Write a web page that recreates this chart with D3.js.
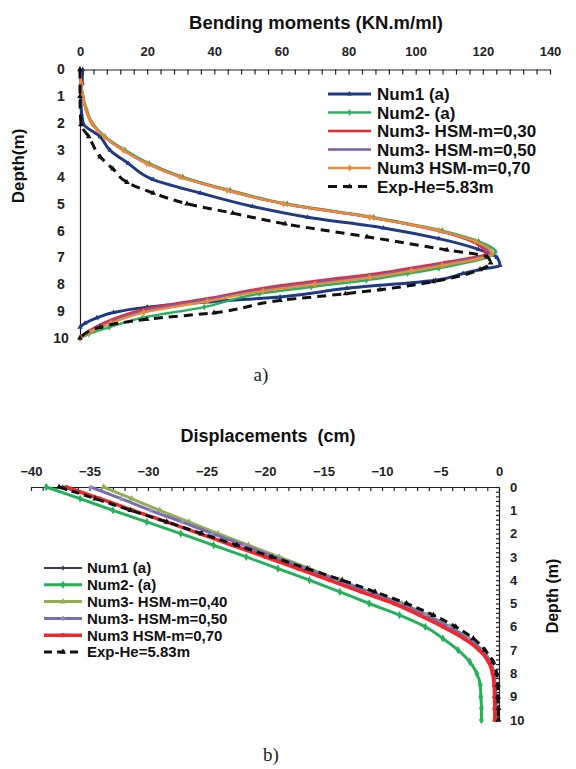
<!DOCTYPE html>
<html><head><meta charset="utf-8">
<script src="https://cdn.jsdelivr.net/npm/d3@7/dist/d3.min.js"></script>
<style>
body{margin:0;background:#fff}
</style>
</head><body>
<svg id="c" width="576" height="769"></svg>
<script>
// ---------- (a) Bending moments ----------
const momTicks = [0,20,40,60,80,100,120,140];
const depthTicks = [0,1,2,3,4,5,6,7,8,9,10];

const momDepthNum1 = [0,0.5,1,2,2.5,3,3.5,4.1,4.6,5.1,5.5,5.9,6.3,6.7,7.0,7.3,7.45,7.6,7.85,8.15,8.47,8.65,8.85,9.05,9.25,9.45,9.6];
const momNum1      = [0.8,0.6,0.2,0.9,6,8.9,14.4,21.8,35.8,51.4,67.8,90.4,106.9,118.7,124.2,125.1,119.1,114.1,105.9,79.5,59.6,39,20,10,5,1.5,0];

const momDepthNum2 = [0,0.5,1,1.5,2,2.5,3,3.5,4,4.5,5,5.5,6,6.4,6.8,7.4,7.6,7.85,8.1,8.35,8.85,9.25,9.6,9.85,10];
const momNum2      = [0,0.3,0.9,2,3.7,7.5,13.4,20.6,30.6,44.7,61.7,87.4,107.9,118.7,123.8,106.9,97.6,85.3,68.9,53.4,37,18.5,8.7,2.6,0];

const momDepthM30 = [0,0.5,1,1.5,2,2.5,3,3.5,4,4.5,5,5.5,6,6.4,6.85,7.15,7.35,7.6,7.85,8.1,8.48,8.9,9.3,9.7,10];
const momM30      = [0,0.3,0.8,1.8,3.5,7.2,12.8,19.9,29.8,43.8,60.6,86.3,106.4,116.6,120.8,110,100.7,88.4,71.9,56.5,40.1,20,9.8,3.1,0];

const momDepthM50 = [0,0.5,1,1.5,2,2.5,3,3.5,4,4.5,5,5.5,6,6.4,6.85,7.22,7.42,7.67,7.92,8.17,8.55,8.97,9.37,9.75,10];
const momM50      = [0,0.3,0.8,1.8,3.5,7.2,12.8,19.9,29.8,43.8,60.6,86.3,106.7,117.2,121.8,108.9,99.7,87.4,70.9,55.5,39,19.5,9.5,2.9,0];

const momDepthM70 = [0,0.5,1,1.5,2,2.5,3,3.5,4,4.5,5,5.5,6,6.4,6.85,7.3,7.5,7.75,8.0,8.25,8.63,9.05,9.45,9.8,10];
const momM70      = [0,0.3,0.8,1.8,3.5,7.2,12.8,19.9,29.8,43.8,60.6,86.3,106.9,117.7,122.8,107.9,98.7,86.3,69.9,54.5,38,19,9.2,2.6,0];

const momDepthExp = [0,1,2.05,2.5,3.25,3.7,4.2,4.6,5.0,5.35,5.75,6.23,6.72,6.98,7.2,7.45,7.9,8.2,8.35,8.6,9.06,9.3,9.6,10];
const momExp      = [0,0,0.3,2.6,6,9.8,14,21.8,31.9,45.5,61.1,85.5,109.3,121.3,122.3,119.2,105.3,89.4,79.1,59.6,39.9,19.9,6,0];

const momNames = ["Num1 (a)","Num2- (a)","Num3- HSM-m=0,30","Num3- HSM-m=0,50","Num3 HSM-m=0,70","Exp-He=5.83m"];

// ---------- (b) Displacements ----------
const dispTicks = [-40,-35,-30,-25,-20,-15,-10,-5,0];
const dispDepth = [0,0.5,1,1.5,2,2.5,3,3.5,4,4.5,5,5.5,6,6.5,7,7.5,8,8.5,9,9.5,10];
const dispNum1 = [-37.3,-34.3,-31.4,-28.4,-25.5,-22.6,-19.7,-16.8,-13.9,-11.2,-8.4,-6.2,-4.2,-2.6,-1.4,-0.7,-0.4,-0.3,-0.25,-0.2,-0.2];
const dispNum2 = [-38.7,-35.8,-33.0,-30.1,-27.2,-24.4,-21.6,-18.9,-16.2,-13.6,-11.1,-8.5,-6.3,-4.8,-3.5,-2.5,-1.9,-1.6,-1.55,-1.5,-1.5];
const dispM40  = [-33.8,-31.4,-29.0,-26.5,-24.0,-21.4,-18.8,-16.2,-13.6,-11.0,-8.3,-6.1,-4.2,-2.6,-1.45,-0.75,-0.45,-0.38,-0.36,-0.35,-0.35];
const dispM50  = [-34.9,-32.3,-29.8,-27.1,-24.5,-21.8,-19.2,-16.5,-13.9,-11.2,-8.5,-6.3,-4.3,-2.7,-1.5,-0.8,-0.5,-0.4,-0.38,-0.36,-0.35];
const dispM70  = [-37.0,-34.1,-31.3,-28.4,-25.6,-22.8,-20.0,-17.2,-14.5,-11.8,-9.0,-6.8,-4.8,-3.0,-1.7,-0.9,-0.55,-0.42,-0.38,-0.36,-0.35];
const dispExp  = [-37.6,-34.5,-31.5,-28.4,-25.4,-22.4,-19.4,-16.4,-13.4,-10.6,-7.9,-5.6,-3.7,-2.2,-1.2,-0.5,-0.2,-0.1,-0.1,-0.05,-0.05];
const dispNames = ["Num1 (a)","Num2- (a)","Num3- HSM-m=0,40","Num3- HSM-m=0,50","Num3 HSM-m=0,70","Exp-He=5.83m"];

const SANS = "'Liberation Sans',Arial,sans-serif";
const SERIF = "'Liberation Serif','Times New Roman',serif";
const svg = d3.select("#c");

function drawSeries(g, series, x, y){
  const line = d3.line().x(d=>x(d.v)).y(d=>y(d.d)).curve(d3.curveMonotoneY);
  series.forEach(s=>{
    const pts = s.depth.map((d,i)=>({d:d, v:s.vals[i]}));
    g.append("path").attr("d", line(pts)).attr("fill","none")
      .attr("stroke", s.color).attr("stroke-width", s.width)
      .attr("stroke-dasharray", s.dash || null).attr("stroke-linejoin","round");
    if (s.marker){
      g.selectAll(null).data(pts).enter().append("path")
        .attr("d", d3.symbol().type(s.marker).size(s.msize||14))
        .attr("transform", d=>`translate(${x(d.v)},${y(d.d)})`)
        .attr("fill", s.mcolor||s.color);
    }
  });
}
function drawLegend(g, series, x0, x1, tx, y0, dy, fs){
  series.forEach((s,i)=>{
    const yy = y0 + i*dy;
    g.append("line").attr("x1",x0).attr("x2",x1).attr("y1",yy).attr("y2",yy)
      .attr("stroke",s.color).attr("stroke-width",s.width).attr("stroke-dasharray",s.dash||null);
    if (s.marker) g.append("path").attr("d", d3.symbol().type(s.marker).size(s.msize||14))
      .attr("transform",`translate(${(x0+x1)/2},${yy})`).attr("fill",s.mcolor||s.color);
    g.append("text").attr("x",tx).attr("y",yy).attr("dy","0.36em")
      .style("font-family",SANS).style("font-size",fs+"px").style("font-weight","bold")
      .attr("fill","#111").text(s.name);
  });
}
function styleTicks(a, fs, anchor){
  a.selectAll("text").style("font-family",SANS).style("font-size",fs+"px").style("font-weight","bold").attr("fill","#222");
  if (anchor) a.selectAll("text").attr("text-anchor",anchor);
}

// ===== Chart a =====
{
  const x = d3.scaleLinear().domain([0,140]).range([80,550]);
  const y = d3.scaleLinear().domain([0,10]).range([69.5,338]);
  const g = svg.append("g");

  g.append("text").attr("x",316).attr("y",29).attr("text-anchor","middle")
    .style("font-family",SANS).style("font-size","18.5px").style("font-weight","bold")
    .attr("fill","#111").text("Bending moments (KN.m/ml)");

  g.append("g").attr("transform","translate(0,69.5)")
    .call(d3.axisBottom(x).tickValues(d3.range(0,141,4)).tickSize(5).tickSizeOuter(0).tickFormat(""))
    .call(a=>a.selectAll("line,path").attr("stroke","#222").attr("stroke-width",1.2));
  g.append("g").attr("transform","translate(0,69.5)")
    .call(d3.axisTop(x).tickValues(momTicks).tickSize(0).tickPadding(14))
    .call(a=>a.select(".domain").remove())
    .call(a=>styleTicks(a,13));
  g.append("g").attr("transform","translate(80,0)")
    .call(d3.axisLeft(y).tickValues(depthTicks).tickSize(0).tickPadding(19))
    .call(a=>a.select(".domain").attr("stroke","#222").attr("stroke-width",1.2))
    .call(a=>styleTicks(a,14,"middle"));
  g.append("text").attr("transform","translate(24,166) rotate(-90)").attr("text-anchor","middle")
    .style("font-family",SANS).style("font-size","17px").style("font-weight","bold")
    .attr("fill","#111").text("Depth(m)");

  const series = [
    {name:momNames[0], depth:momDepthNum1, vals:momNum1, color:"#1f3b84", width:3, marker:d3.symbolTriangle, msize:12},
    {name:momNames[1], depth:momDepthNum2, vals:momNum2, color:"#2bb061", width:2.5, marker:d3.symbolDiamond, msize:14},
    {name:momNames[2], depth:momDepthM30, vals:momM30, color:"#f0282d", width:2.5},
    {name:momNames[3], depth:momDepthM50, vals:momM50, color:"#7b5ea7", width:2.5},
    {name:momNames[4], depth:momDepthM70, vals:momM70, color:"#ec8a3a", width:2.5, marker:d3.symbolDiamond, msize:16},
    {name:momNames[5], depth:momDepthExp, vals:momExp, color:"#111", width:3, dash:"9,6", marker:d3.symbolTriangle, msize:14}
  ];
  drawSeries(g, series, x, y);
  drawLegend(g, series, 328, 371, 377, 94, 18.5, 17);

  g.append("text").attr("x",261).attr("y",381).attr("text-anchor","middle")
    .style("font-family",SERIF).style("font-size","19px").attr("fill","#222").text("a)");
}

// ===== Chart b =====
{
  const x = d3.scaleLinear().domain([-40,0]).range([31,499]);
  const y = d3.scaleLinear().domain([0,10]).range([487,720]);
  const g = svg.append("g");

  g.append("text").attr("x",268).attr("y",442).attr("text-anchor","middle")
    .style("font-family",SANS).style("font-size","18px").style("font-weight","bold").style("white-space","pre")
    .attr("fill","#111").text("Displacements\u00a0 (cm)");

  g.append("g").attr("transform","translate(0,487)")
    .call(d3.axisBottom(x).tickValues(d3.range(-40,0.1,1)).tickSize(4).tickSizeOuter(0).tickFormat(""))
    .call(a=>a.selectAll("line,path").attr("stroke","#222").attr("stroke-width",1.2));
  g.append("g").attr("transform","translate(0,487)")
    .call(d3.axisTop(x).tickValues(dispTicks).tickSize(0).tickPadding(11))
    .call(a=>a.select(".domain").remove())
    .call(a=>styleTicks(a,13));
  g.append("g").attr("transform","translate(499,0)")
    .call(d3.axisLeft(y).tickValues(d3.range(0,10.01,0.2)).tickSize(3).tickSizeOuter(0).tickFormat(""))
    .call(a=>a.selectAll("line,path").attr("stroke","#222").attr("stroke-width",1.2));
  g.append("g").attr("transform","translate(499,0)")
    .call(d3.axisRight(y).tickValues(depthTicks).tickSize(0).tickPadding(11))
    .call(a=>a.select(".domain").remove())
    .call(a=>styleTicks(a,13));
  g.append("text").attr("transform","translate(558,596) rotate(-90)").attr("text-anchor","middle")
    .style("font-family",SANS).style("font-size","16px").style("font-weight","bold")
    .attr("fill","#111").text("Depth (m)");

  const series = [
    {name:dispNames[0], depth:dispDepth, vals:dispNum1, color:"#3a3a55", width:2, marker:d3.symbolCross, msize:12},
    {name:dispNames[1], depth:dispDepth, vals:dispNum2, color:"#25b05a", width:3, marker:d3.symbolDiamond, msize:20},
    {name:dispNames[2], depth:dispDepth, vals:dispM40, color:"#8fb153", width:3, marker:d3.symbolTriangle, msize:18},
    {name:dispNames[3], depth:dispDepth, vals:dispM50, color:"#7a6bb3", width:3, marker:d3.symbolCross, msize:12, mcolor:"#9a8fc8"},
    {name:dispNames[4], depth:dispDepth, vals:dispM70, color:"#f0282d", width:3.5, marker:d3.symbolCircle, msize:14},
    {name:dispNames[5], depth:dispDepth, vals:dispExp, color:"#111", width:3, dash:"8,5", marker:d3.symbolTriangle, msize:16}
  ];
  drawSeries(g, series, x, y);
  drawLegend(g, series, 44, 82, 87, 568, 16.8, 15);

  g.append("text").attr("x",271).attr("y",761).attr("text-anchor","middle")
    .style("font-family",SERIF).style("font-size","19px").attr("fill","#222").text("b)");
}
</script>
</body></html>
